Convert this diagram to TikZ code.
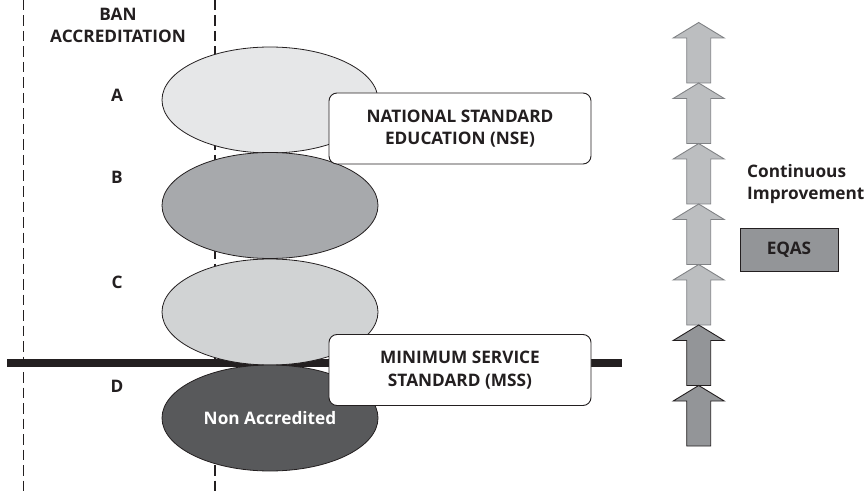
\documentclass[tikz,border=0pt]{standalone}
\usepackage{fontspec}
\setmainfont{Open Sans}
\usetikzlibrary{shapes.geometric}
\definecolor{ink}{HTML}{231F20}
\definecolor{levelA}{HTML}{E6E7E8}
\definecolor{levelB}{HTML}{A7A9AC}
\definecolor{levelC}{HTML}{D1D3D4}
\definecolor{levelD}{HTML}{58595B}
\definecolor{liftlight}{HTML}{BCBEC0}
\definecolor{liftedge}{HTML}{808285}
\definecolor{liftdark}{HTML}{939598}
\tikzset{
  lbl/.style={font=\bfseries\fontsize{17.3}{22.5}\selectfont, text=ink, inner sep=0pt},
  level/.style={ellipse, draw=ink, line width=0.8bp, minimum width=216bp, minimum height=106bp, inner sep=0pt},
  standard/.style={lbl, draw=ink, line width=0.9bp, fill=white, rounded corners=8bp,
    minimum width=262bp, minimum height=71bp, align=center},
  liftup/.style={fill=liftlight, draw=liftedge, line width=0.9bp},
  liftupdark/.style={fill=liftdark, draw=ink, line width=0.9bp},
}
\begin{document}
\begin{tikzpicture}[x=1bp,y=-1bp,line join=miter]
\useasboundingbox (0,0) rectangle (867,496);
%%
  % Frame: accreditation column
  \draw [ink, line width=1.6bp, dash pattern=on 10.5bp off 5bp] (23.3,0) -- (23.3,496);
  \draw [ink, line width=1.6bp, dash pattern=on 10.5bp off 5bp] (215,0) -- (215,496);
  % Threshold
  \draw [ink, line width=8bp] (7,363.3) -- (622,363.3);
  % Node: levels
  \node [level, fill=levelA] (lvA) at (270,100) {};
  \node [level, fill=levelB] (lvB) at (270,205.5) {};
  \node [level, fill=levelC] (lvC) at (270,312) {};
  \node [level, fill=levelD, lbl, text=white] (lvD) at (270,418) {Non Accredited};
  % Node: standards
  \node [standard] (nse) at (460,128.5) {NATIONAL STANDARD\\EDUCATION (NSE)};
  \node [standard] (mss) at (460,370) {MINIMUM SERVICE\\STANDARD (MSS)};
  % Node: grades
  \node [lbl, align=center] (ban) at (118,25.5) {BAN\\ACCREDITATION};
  \node [lbl] (gA) at (117,95) {A};
  \node [lbl] (gB) at (117,177) {B};
  \node [lbl] (gC) at (117,282) {C};
  \node [lbl] (gD) at (117,386) {D};
  % Improvement arrows
  \foreach \t in {22.5,83,143.5,204,264.5}
    \draw [liftup] (698.7,\t) -- (724.2,\t+15.5) -- (710.7,\t+15.5) -- (710.7,\t+60.5)
      -- (686.7,\t+60.5) -- (686.7,\t+15.5) -- (673.2,\t+15.5) -- cycle;
  \foreach \t in {325,385.5}
    \draw [liftupdark] (698.7,\t) -- (724.2,\t+15.5) -- (710.7,\t+15.5) -- (710.7,\t+60.5)
      -- (686.7,\t+60.5) -- (686.7,\t+15.5) -- (673.2,\t+15.5) -- cycle;
  % Node: side notes
  \node [lbl, anchor=west, align=left] (ci) at (747,184) {Continuous\\Improvement};
  \node [lbl, draw=ink, line width=0.9bp, fill=liftdark, minimum width=98bp, minimum height=43bp] (eqas) at (789,249.5) {EQAS};
%
\end{tikzpicture}
\end{document}
